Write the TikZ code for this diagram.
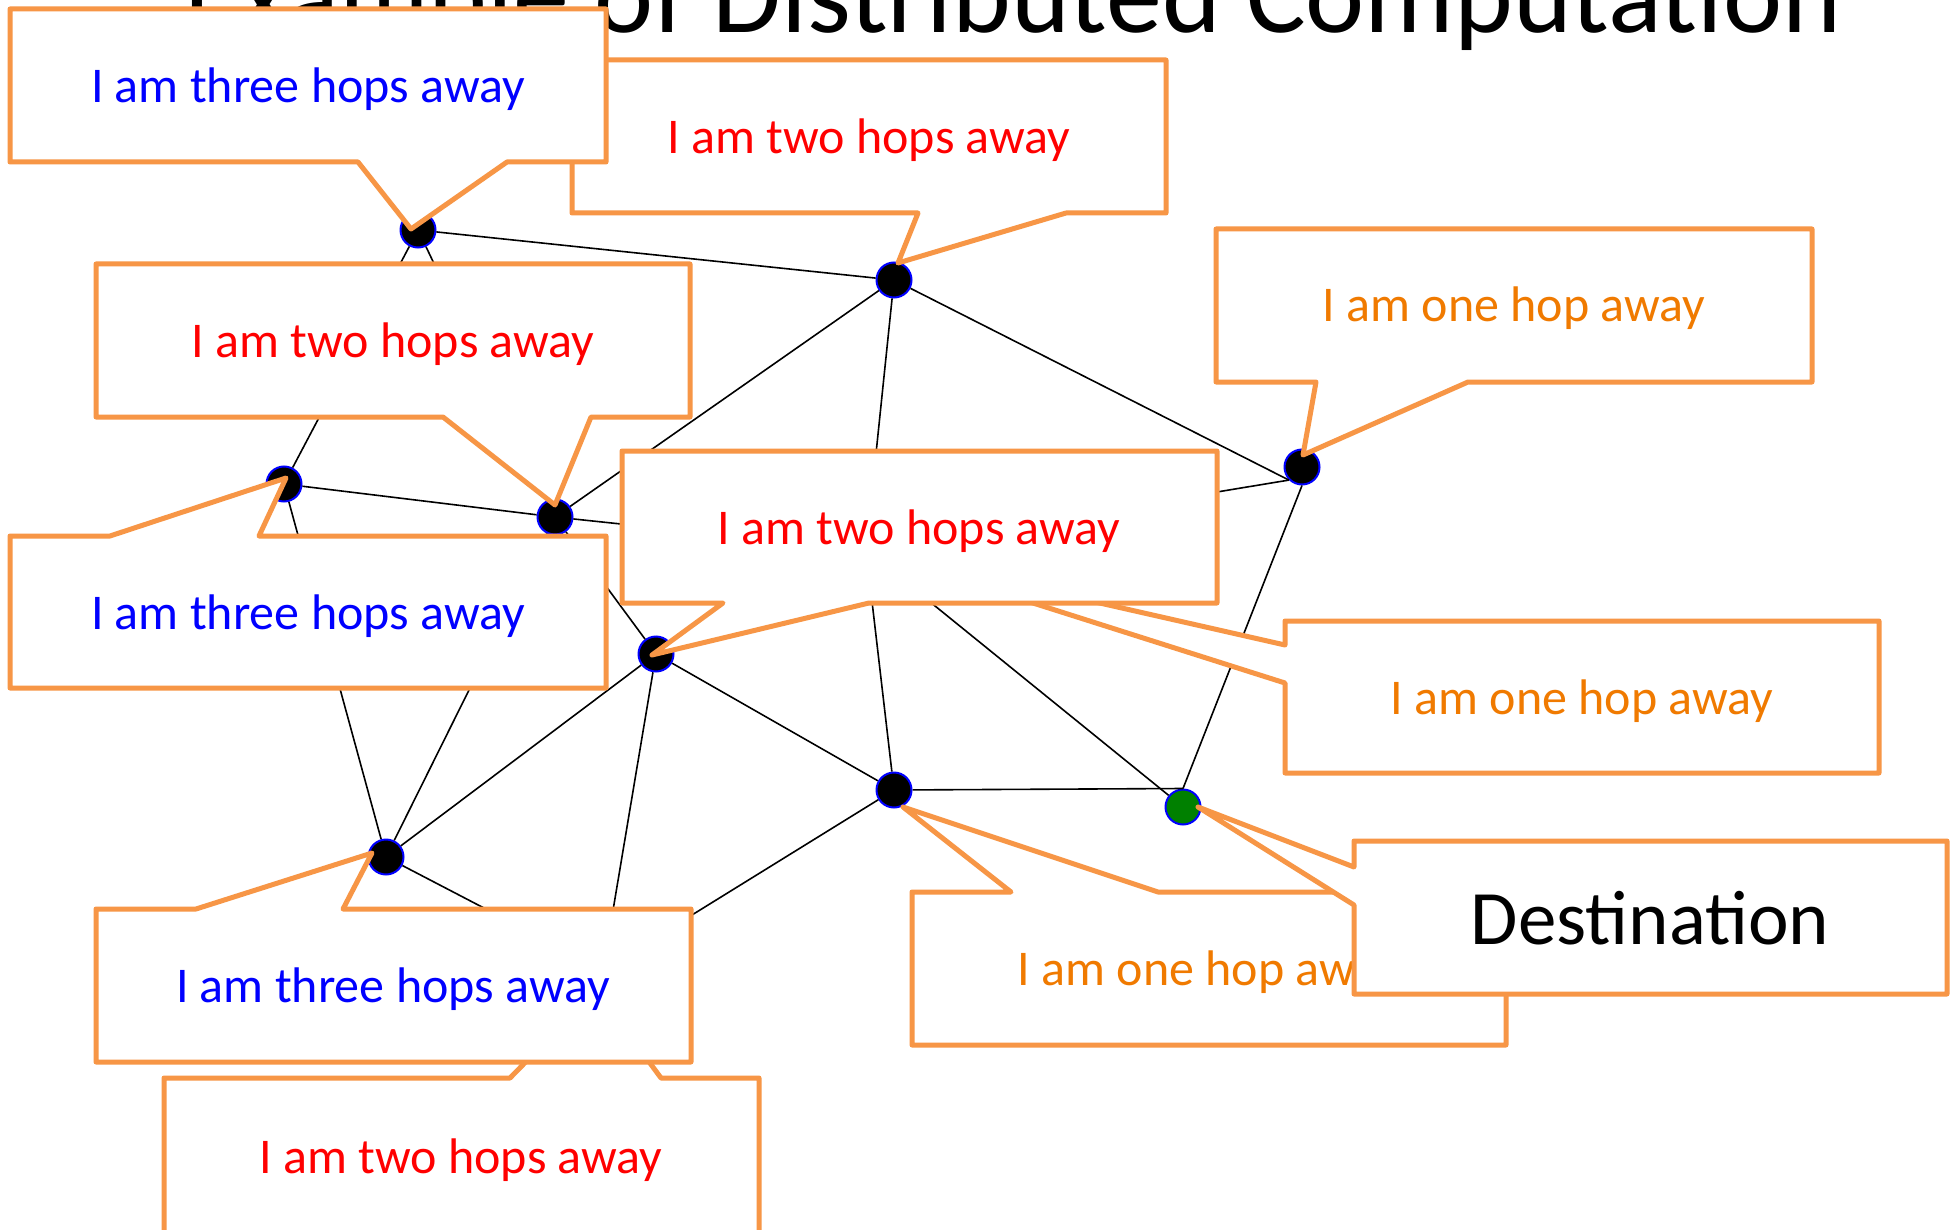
\documentclass[tikz,border=0pt]{standalone}
\usepackage{fontspec}
\setmainfont{Carlito}
\definecolor{co}{RGB}{247,150,70}
\definecolor{otext}{RGB}{240,122,0}
\definecolor{dgreen}{RGB}{0,128,0}
\tikzset{
  bubble/.style={draw=co, line width=5pt, fill=white, line join=round},
  lbl/.style={anchor=base, inner sep=0pt, font=\fontsize{50}{60}\selectfont},
  vertex/.style={circle, minimum size=35pt, inner sep=0pt, fill=black, draw=blue, line width=2pt},
  edge/.style={draw=black, line width=1.6pt},
}
\begin{document}
\begin{tikzpicture}[x=1pt,y=-1pt]
\path[use as bounding box, fill=white] (0,0) rectangle (1950,1230);
\node[anchor=base, inner sep=0pt, font=\fontsize{112}{130}\selectfont] (title) at (1013,33) {Example of Distributed Computation};
% graph nodes
\node[vertex] (n1) at (418,230) {};
\node[vertex] (n2) at (894,280) {};
\node[vertex] (n3) at (1302,467) {};
\node[vertex] (n4) at (284,484) {};
\node[vertex] (n5) at (555,517) {};
\node[vertex] (n6) at (656,654) {};
\node[vertex] (n7) at (894,790) {};
\node[vertex, fill=dgreen] (n8) at (1183,807) {};
\node[vertex] (n9) at (386,857) {};
\coordinate (h1) at (866,550);
\coordinate (h2) at (603,970);
\coordinate (h2tip) at (596,990);
% edges
\draw[edge] (n1) -- (n2);
\draw[edge] (n1) -- (n4);
\draw[edge] (n1) -- (n5);
\draw[edge] (n2) -- (n5);
\draw[edge] (n2) -- (h1);
\draw[edge] (n2) -- (n3.south west);
\draw[edge] (n3.south west) -- (h1);
\draw[edge] (n3.south) -- (n8.north);
\draw[edge] (n4) -- (n5);
\draw[edge] (n4) -- (n9);
\draw[edge] (n5) -- (h1);
\draw[edge] (n5) -- (n6);
\draw[edge] (n5) -- (n9);
\draw[edge] (n6) -- (h1);
\draw[edge] (n6) -- (n7);
\draw[edge] (n6) -- (n9);
\draw[edge] (n6) -- (h2);
\draw[edge] (n7) -- (h1);
\draw[edge] (n7) -- (n8.north);
\draw[edge] (n7) -- (h2);
\draw[edge] (h1) -- (n8);
\draw[edge] (n9) -- (h2);
% callouts
\draw[bubble] (572,60) -- (1166,60) -- (1166,213) -- (1066,213) -- (898,263) -- (918,213) -- (572,213) -- cycle;
\node[lbl, text=red] (t2) at (869,154) {I am two hops away};
\draw[bubble] (10,9) -- (606,9) -- (606,162) -- (507,162) -- (411,229) -- (358,162) -- (10,162) -- cycle;
\node[lbl, text=blue] (t1) at (308,103) {I am three hops away};
\draw[bubble] (1216,229) -- (1812,229) -- (1812,382) -- (1468,382) -- (1303,455) -- (1316,382) -- (1216,382) -- cycle;
\node[lbl, text=otext] (t3) at (1514,322) {I am one hop away};
\draw[bubble] (96,264) -- (690,264) -- (690,417) -- (591,417) -- (555,505) -- (443,417) -- (96,417) -- cycle;
\node[lbl, text=red] (t4) at (393,357) {I am two hops away};
\draw[bubble] (10,536) -- (110,536) -- (286,478) -- (259,536) -- (606,536) -- (606,688) -- (10,688) -- cycle;
\node[lbl, text=blue] (t5) at (308,629) {I am three hops away};
\draw[bubble] (1285,621) -- (1879,621) -- (1879,773) -- (1285,773) -- (1285,683) -- (h1) -- (1285,645) -- cycle;
\node[lbl, text=otext] (t7) at (1582,714) {I am one hop away};
\draw[bubble] (622,451) -- (1217,451) -- (1217,603) -- (869,603) -- (652,655) -- (723,603) -- (622,603) -- cycle;
\node[lbl, text=red] (t6) at (919,544) {I am two hops away};
\draw[bubble] (912,892) -- (1011,892) -- (903,807) -- (1158,892) -- (1506,892) -- (1506,1045) -- (912,1045) -- cycle;
\node[lbl, text=otext] (t8) at (1209,985) {I am one hop away};
\draw[bubble] (1354,841) -- (1947,841) -- (1947,994) -- (1354,994) -- (1354,905) -- (1198,807) -- (1354,867) -- cycle;
\node[anchor=base, inner sep=0pt, font=\fontsize{77}{90}\selectfont] (t9) at (1650,944) {Destination};
\draw[bubble] (164,1078) -- (510,1078) -- (h2tip) -- (661,1078) -- (759,1078) -- (759,1236) -- (164,1236) -- cycle;
\node[lbl, text=red] (t11) at (461,1173) {I am two hops away};
\draw[bubble] (96,909) -- (196,909) -- (372,853) -- (343,909) -- (691,909) -- (691,1062) -- (96,1062) -- cycle;
\node[lbl, text=blue] (t10) at (393,1002) {I am three hops away};
\end{tikzpicture}
\end{document}
